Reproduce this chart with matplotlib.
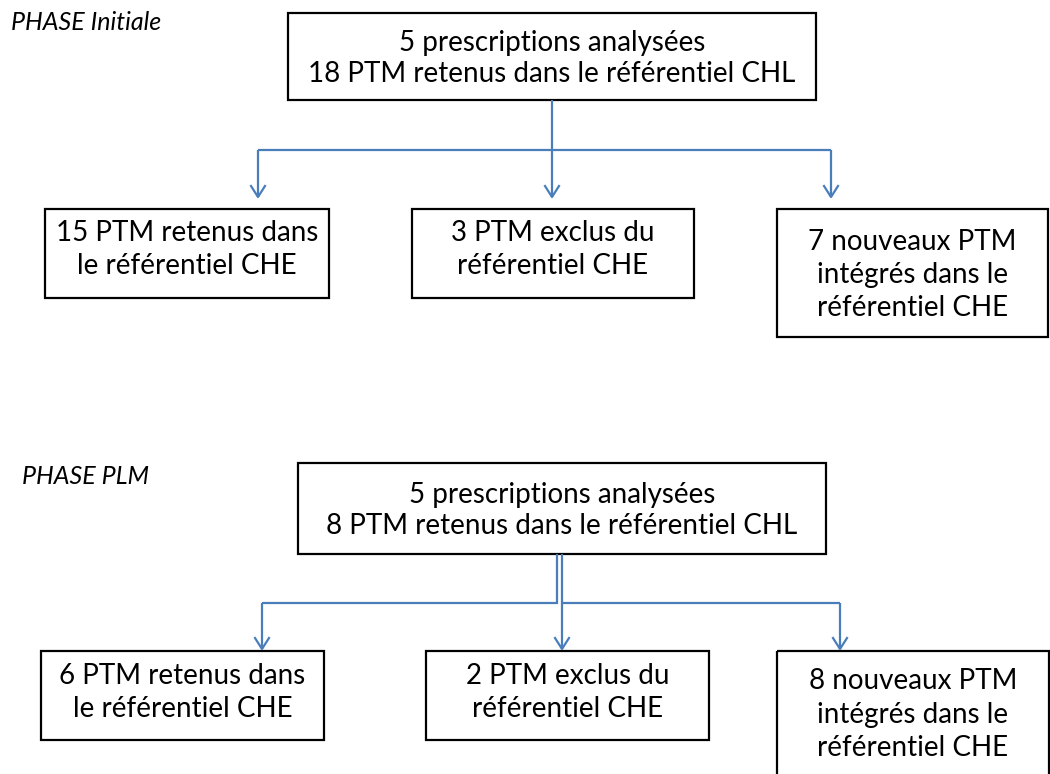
import matplotlib
matplotlib.use("Agg")
import matplotlib.pyplot as plt
from matplotlib.patches import Rectangle

plt.rcParams['font.family'] = ['Lato', 'DejaVu Sans']

phase_labels = ["PHASE Initiale", "PHASE PLM"]
top_texts = ["5 prescriptions analysées\n18 PTM retenus dans le référentiel CHL",
             "5 prescriptions analysées\n8 PTM retenus dans le référentiel CHL"]
child_texts = [
    ["15 PTM retenus dans\nle référentiel CHE", "3 PTM exclus du\nréférentiel CHE",
     "7 nouveaux PTM\nintégrés dans le\nréférentiel CHE"],
    ["6 PTM retenus dans\nle référentiel CHE", "2 PTM exclus du\nréférentiel CHE",
     "8 nouveaux PTM\nintégrés dans le\nréférentiel CHE"],
]

W, H = 1050, 774
fig = plt.figure(figsize=(W / 100, H / 100), dpi=100)
ax = fig.add_axes([0, 0, 1, 1])
ax.set_xlim(0, W)
ax.set_ylim(H, 0)
ax.axis('off')

BLUE = '#4a7ebb'
FS = 20

def box(x0, y0, x1, y1, text, ls=1.35, dy=0):
    ax.add_patch(Rectangle((x0, y0), x1 - x0, y1 - y0, fill=False, ec='black', lw=1.6, clip_on=True))
    ax.text((x0 + x1) / 2, (y0 + y1) / 2 + dy, text, ha='center', va='center', fontsize=FS,
            linespacing=ls, color='black')

def line(xs, ys):
    ax.plot(xs, ys, color=BLUE, lw=1.6, solid_capstyle='butt', solid_joinstyle='miter')

def arrow(x, y0, y1):
    line([x, x], [y0, y1])
    ax.plot([x - 7, x, x + 7], [y1 - 11, y1, y1 - 11], color=BLUE, lw=1.6)

# Phase 1
ax.text(11, 22, phase_labels[0], fontsize=18, style='italic', ha='left', va='center')
box(288, 13, 816, 100, top_texts[0], ls=1.2, dy=2)
line([552, 552], [100, 150])
line([258, 831], [150, 150])
for x in [258, 552, 831]:
    arrow(x, 150, 197)
box(45, 209, 329, 298, child_texts[0][0], dy=-4)
box(412, 209, 694, 298, child_texts[0][1], dy=-4)
box(777, 209, 1048, 337, child_texts[0][2], dy=2)

# Phase 2
ax.text(22, 476, phase_labels[1], fontsize=18, style='italic', ha='left', va='center')
box(298, 463, 826, 554, top_texts[1], ls=1.2, dy=2)
line([557, 557, 262], [554, 603, 603])
line([562, 840], [603, 603])
arrow(262, 603, 649)
arrow(562, 554, 649)
arrow(840, 603, 649)
box(41, 651, 324, 740, child_texts[1][0], dy=-3)
box(426, 651, 709, 740, child_texts[1][1], dy=-3)
box(777, 651, 1049, 790, child_texts[1][2], dy=-6)

fig.savefig("out.png", dpi=100)
